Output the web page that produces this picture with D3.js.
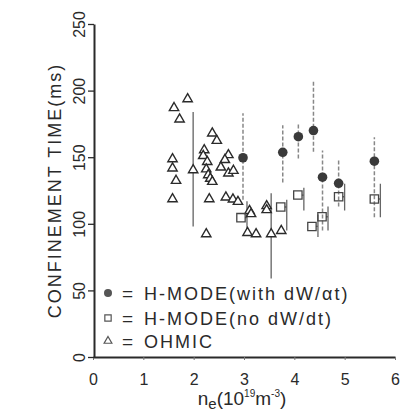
<!DOCTYPE html>
<html><head><meta charset="utf-8">
<script src="https://cdn.jsdelivr.net/npm/d3@7"></script>
<style>
body{margin:0;background:#fff;}
svg{display:block;font-family:"Liberation Sans",Arial,Helvetica,sans-serif;}
</style></head>
<body><svg id="c" width="400" height="417"></svg>
<script>
// ---- data ----
const xTicks = [0,1,2,3,4,5,6];
const yTicks = [0,50,100,150,200,250];
const legendLabels = ["H-MODE(with dW/αt)","H-MODE(no dW/dt)","OHMIC"];
// H-MODE (with dW/dt): density, confinement time, error low, error high
const hwX  = [2.98,3.77,4.08,4.38,4.56,4.88,5.59];
const hwY  = [149.6,153.7,165.4,170,135,130.4,147];
const hwLo = [118,131,149,154,95,113,105];
const hwHi = [183,174,175,207,155,148,165];
// H-MODE (no dW/dt)
const hnX  = [2.94,3.73,4.07,4.35,4.55,4.88,5.59];
const hnY  = [104.6,112.6,121.6,98,105.3,120.3,118.6];
const hnLo = [91,95,110,90,95,110,105];
const hnHi = [117,118,127,107,113,130,130];
// OHMIC
const ohX = [1.88,1.61,1.72,2.37,2.46,1.58,1.58,1.65,1.58,1.99,2.21,2.19,2.27,2.25,2.29,2.33,2.37,2.31,2.25,
             2.69,2.62,2.54,2.69,2.79,2.64,2.78,2.88,3.11,3.14,3.07,3.24,3.45,3.45,3.54,3.74];
const ohY = [193.7,187,178.5,168,162.4,148.6,141.7,132.4,118.6,140.4,155.4,151,146.6,141,136.6,134,131.6,118.6,92.3,
             151.7,148,142.4,137.9,139.9,119.9,118.4,116.6,109.8,107.4,93.3,92.3,113.4,110.4,92.3,94.8];
// OHMIC points carrying error bars
const ohErrX  = [1.99,3.54];
const ohErrLo = [98,59];
const ohErrHi = [184,123];

// ---- scales ----
const svg = d3.select("#c");
const x = d3.scaleLinear().domain([0,6]).range([93,395]);
const y = d3.scaleLinear().domain([0,250]).range([357,24]);
const ink = "#2a2a2a";

// axes
const gx = svg.append("g").attr("transform",`translate(0,${y(0)})`)
  .call(d3.axisBottom(x).tickValues(xTicks).tickSize(3).tickSizeOuter(0).tickPadding(14).tickFormat(d3.format("d")));
gx.select(".domain").attr("stroke",ink).attr("stroke-width",2.2);
gx.selectAll(".tick line").attr("stroke","#777").attr("stroke-width",1);
gx.selectAll(".tick text").attr("font-size",16).attr("fill",ink).attr("font-family","Liberation Sans, Arial, sans-serif");

const gy = svg.append("g").attr("transform",`translate(${x(0)+1},0)`)
  .call(d3.axisLeft(y).tickValues(yTicks).tickSize(6).tickSizeOuter(0));
gy.select(".domain").attr("stroke",ink).attr("stroke-width",2);
gy.selectAll(".tick line").attr("stroke",ink).attr("stroke-width",1.3);
gy.selectAll(".tick text").attr("font-size",16).attr("fill",ink)
  .attr("font-family","Liberation Sans, Arial, sans-serif")
  .attr("transform","rotate(-90)").attr("x",0).attr("y",-9).attr("dy",0).attr("text-anchor","middle");

// axis titles
svg.append("text").attr("transform",`translate(61,${(y(0)+y(250))/2}) rotate(-90)`)
  .attr("text-anchor","middle").attr("font-size",18).attr("letter-spacing",2).attr("fill",ink)
  .text("CONFINEMENT TIME(ms)");

const xt = svg.append("text").attr("x",242).attr("y",405).attr("text-anchor","middle")
  .attr("font-size",19).attr("fill",ink);
xt.append("tspan").text("n");
xt.append("tspan").attr("font-size",15).attr("dy",4).text("e");
xt.append("tspan").attr("dy",-4).text("(10");
xt.append("tspan").attr("font-size",10).attr("dy",-8).text("19");
xt.append("tspan").attr("dy",8).text("m");
xt.append("tspan").attr("font-size",10).attr("dy",-8).text("-3");
xt.append("tspan").attr("dy",8).text(")");

// ---- error bars ----
const plot = svg.append("g");
plot.selectAll(".ebw").data(hwX).join("line")
  .attr("x1",(d)=>x(d)).attr("x2",(d)=>x(d))
  .attr("y1",(d,i)=>y(hwLo[i])).attr("y2",(d,i)=>y(hwHi[i]))
  .attr("stroke","#888").attr("stroke-width",1.5).attr("stroke-dasharray","4,2");
plot.selectAll(".ebn").data(hnX).join("path")
  .attr("d",(d,i)=>{const cx=x(d)+6, cy=y(hnY[i]);
     return `M${cx},${y(hnHi[i])}V${y(hnLo[i])}M${cx-2},${cy}H${cx}`;})
  .attr("fill","none").attr("stroke","#666").attr("stroke-width",1.3);
plot.selectAll(".ebo").data(ohErrX).join("line")
  .attr("x1",(d)=>x(d)).attr("x2",(d)=>x(d))
  .attr("y1",(d,i)=>y(ohErrLo[i])).attr("y2",(d,i)=>y(ohErrHi[i]))
  .attr("stroke","#777").attr("stroke-width",1.5);

// ---- markers ----
const tri = d3.symbol().type(d3.symbolTriangle).size(38);
const sq = d3.symbol().type(d3.symbolSquare).size(70);

plot.selectAll(".oh").data(ohX).join("path")
  .attr("transform",(d,i)=>`translate(${x(d)},${y(ohY[i])})`)
  .attr("d",tri).attr("fill","#fff").attr("stroke",ink).attr("stroke-width",1.4);

plot.selectAll(".hn").data(hnX).join("path")
  .attr("transform",(d,i)=>`translate(${x(d)},${y(hnY[i])})`)
  .attr("d",sq).attr("fill","none").attr("stroke","#444").attr("stroke-width",1.3);

plot.selectAll(".hw").data(hwX).join("circle")
  .attr("cx",(d)=>x(d)).attr("cy",(d,i)=>y(hwY[i])).attr("r",4.8)
  .attr("fill","#3a3a3a");

// ---- legend ----
const lg = svg.append("g");
const rowY = [293,318,341];
lg.append("circle").attr("cx",108).attr("cy",rowY[0]).attr("r",4).attr("fill","#555");
lg.append("path").attr("transform",`translate(108,${rowY[1]})`).attr("d",d3.symbol().type(d3.symbolSquare).size(40))
  .attr("fill","none").attr("stroke","#555").attr("stroke-width",1.2);
lg.append("path").attr("transform",`translate(108,${rowY[2]})`).attr("d",d3.symbol().type(d3.symbolTriangle).size(26))
  .attr("fill","none").attr("stroke","#555").attr("stroke-width",1.2);
legendLabels.forEach((t,i)=>{
  lg.append("text").attr("x",122).attr("y",rowY[i]+7).attr("font-size",19).attr("fill",ink).text("=");
  lg.append("text").attr("x",144).attr("y",rowY[i]+7).attr("font-size",18).attr("fill",ink)
    .attr("letter-spacing",2).text(t);
});
</script></body></html>
